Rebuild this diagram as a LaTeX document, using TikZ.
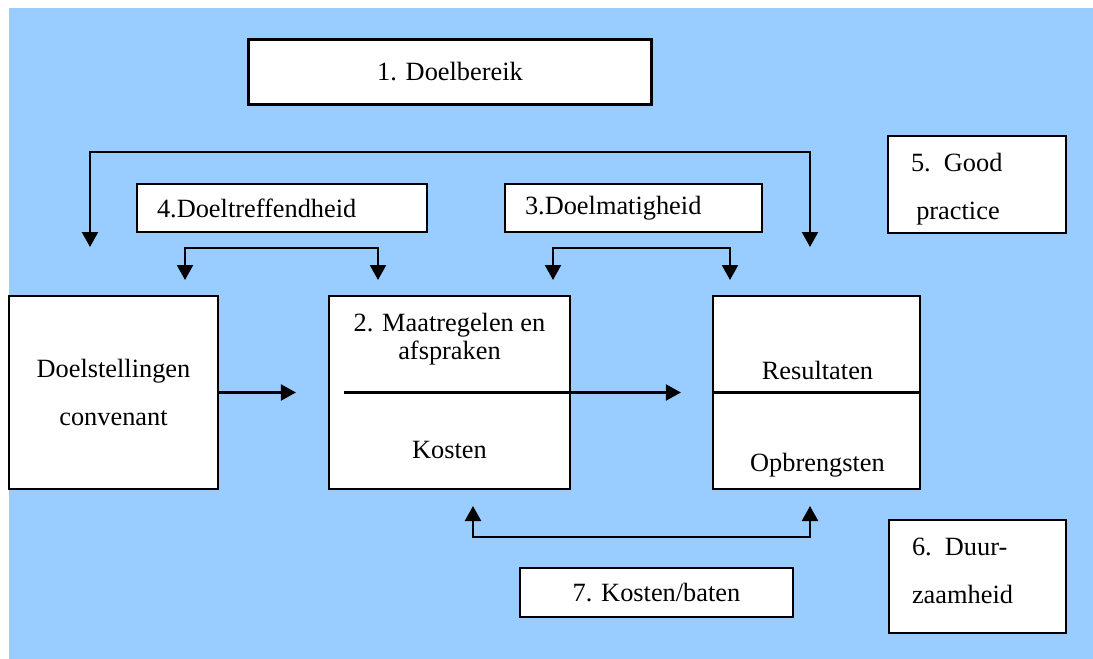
\documentclass[tikz,border=0pt]{standalone}
\usepackage{fontspec}
\setmainfont{Liberation Serif}
\usepackage{tikz}
\usetikzlibrary{
  arrows.meta,
  positioning
}
\definecolor{skyblue}{HTML}{99CCFF}
\tikzset{>={Triangle[length=3mm, width=3.2mm]}}
\tikzset{font=\fontsize{15}{18}\selectfont}
\tikzset{box/.style={draw, fill=white, line width=1.3pt, inner sep=0pt},
  link/.style={line width=1.3pt},
  txt/.style={inner sep=0pt},
  wide/.style={font=\fontsize{15}{27.3}\selectfont}}

\begin{document}
\begin{tikzpicture}[x=0.02cm, y=-0.02cm]
          \useasboundingbox (0,0) rectangle (1093,659);
          \fill[skyblue] (9,8) rectangle (1093,659);
          % top row
          \node[box, minimum width=8.06cm, minimum height=1.3cm] (doelbereik) at (450,72) {1. Doelbereik};
          \node[box, minimum width=5.8cm, minimum height=0.96cm, text width=5cm, inner xsep=0.4cm, align=left] (doeltreffend) at (282,208) {4.Doeltreffendheid};
          \node[box, minimum width=5.14cm, minimum height=0.96cm, text width=4.34cm, inner xsep=0.4cm, align=left] (doelmatig) at (633.5,208) {3.Doelmatigheid};
          \node[box, minimum width=3.56cm, minimum height=1.94cm] (goodpractice) at (977,184.5) {};
          \node[txt, wide, text width=2.64cm, align=left] (goodtxt) at (977,189) {5. Good\\\hspace*{3pt}practice};
          % middle row
          \node[box, wide, minimum width=4.18cm, minimum height=3.86cm, align=center] (doelst) at (113.5,392.5) {Doelstellingen\\convenant};
          \node[box, minimum width=4.82cm, minimum height=3.86cm] (maatregelen) at (449.5,392.5) {};
          \node[txt, align=center, font=\fontsize{15}{16}\selectfont] (maattxt) at (449.5,339) {2. Maatregelen en\\afspraken};
          \node[txt] (kosten) at (449.5,449.5) {Kosten};
          \node[box, minimum width=4.14cm, minimum height=3.86cm] (resultaten) at (816.5,392.5) {};
          \node[txt] (restxt) at (817.5,370.5) {Resultaten};
          \node[txt] (opbrengsten) at (817.5,465) {Opbrengsten};
          \draw[link] (resultaten.west) -- (resultaten.east);
          % bottom row
          \node[box, minimum width=3.54cm, minimum height=2.26cm] (duurzaam) at (977.5,576.5) {};
          \node[txt, wide, text width=2.62cm, align=left] (duurtxt) at (977.5,571) {6. Duur-\\zaamheid};
          \node[box, minimum width=5.46cm, minimum height=0.98cm] (kostbaat) at (656.5,592.5) {7. Kosten/baten};
          % connectors
          \draw[link,->] (doelst.east) -- ([xshift=-0.64cm]maatregelen.west);
          \draw[link,->] ([xshift=0.32cm]maatregelen.west) -- ([xshift=-0.62cm]resultaten.west);
          \coordinate (bigL) at (90,247);
          \coordinate (bigR) at (810,247);
          \draw[link,<->] (bigL) -- ++(0,-95) -| (bigR);
          \coordinate (treffL) at (185,280);
          \coordinate (treffR) at (378,280);
          \draw[link,<->] (treffL) -- ++(0,-32) -| (treffR);
          \coordinate (matigL) at (553,280);
          \coordinate (matigR) at (730,280);
          \draw[link,<->] (matigL) -- ++(0,-32) -| (matigR);
          \coordinate (kostL) at (473,506);
          \coordinate (kostR) at (810,506);
          \draw[link,<->] (kostL) -- ++(0,31) -| (kostR);
        \end{tikzpicture}
\end{document}
